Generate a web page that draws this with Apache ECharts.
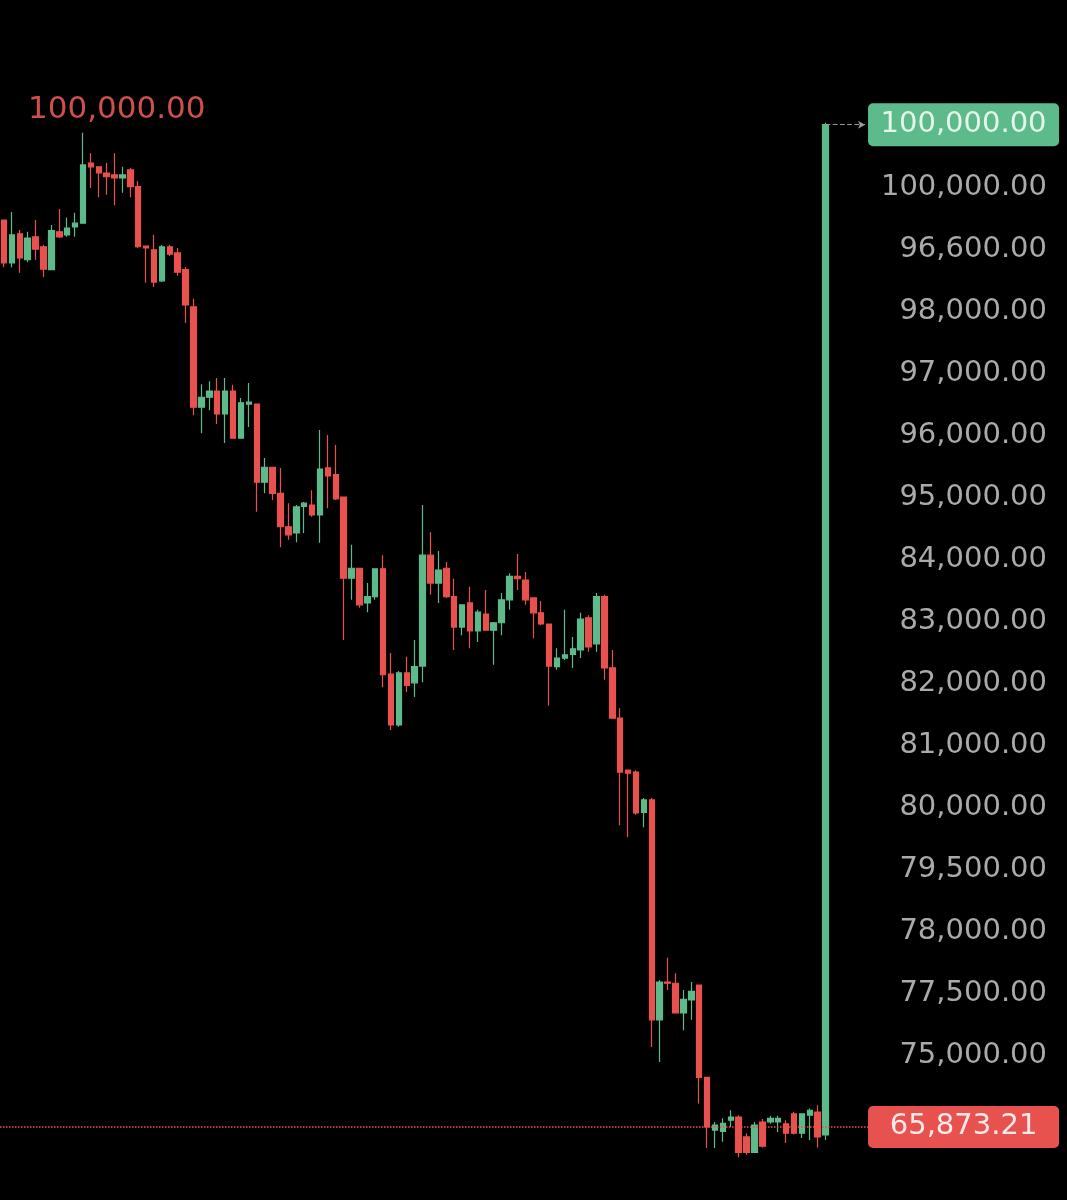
<!DOCTYPE html>
<html>
<head>
<meta charset="utf-8">
<script src="https://cdn.jsdelivr.net/npm/echarts@6/dist/echarts.min.js"></script>
<style>
  html, body { margin: 0; padding: 0; background: #000; }
  #chart { width: 1067px; height: 1200px; }
</style>
</head>
<body>
<div id="chart"></div>
<script>
// y values are in "row" units of the price scale: 0 = bottom label, 14 = top label
const tickLabels = ['100,000.00', '96,600.00', '98,000.00', '97,000.00', '96,000.00', '95,000.00',
  '84,000.00', '83,000.00', '82,000.00', '81,000.00', '80,000.00', '79,500.00', '78,000.00',
  '77,500.00', '75,000.00']

// [open, close, lowest, highest]
const candles = [
  [13.48, 12.79, 12.72, 13.48], [12.79, 13.24, 12.72, 13.61], [13.26, 12.87, 12.63, 13.32],
  [12.84, 13.19, 12.80, 13.29], [13.21, 13.01, 12.84, 13.48], [13.05, 12.69, 12.56, 13.08],
  [12.68, 13.31, 12.68, 13.40], [13.29, 13.21, 13.19, 13.66], [13.24, 13.35, 13.21, 13.52],
  [13.37, 13.43, 13.21, 13.60], [13.43, 14.37, 13.43, 14.89], [14.40, 14.34, 14.00, 14.56],
  [14.34, 14.24, 13.85, 14.34], [14.24, 14.18, 13.89, 14.40], [14.21, 14.16, 13.72, 14.56],
  [14.16, 14.21, 13.92, 14.34], [14.29, 14.02, 13.85, 14.32], [14.02, 13.05, 13.03, 14.11],
  [13.06, 13.03, 12.47, 13.06], [13.00, 12.48, 12.40, 13.24], [12.50, 13.05, 12.48, 13.08],
  [13.05, 12.93, 12.90, 13.08], [12.95, 12.64, 12.58, 13.03], [12.68, 12.11, 11.82, 12.72],
  [12.08, 10.46, 10.33, 12.21], [10.46, 10.62, 10.04, 10.83], [10.62, 10.72, 10.41, 10.88],
  [10.72, 10.35, 10.19, 10.93], [10.35, 10.72, 9.88, 10.93], [10.72, 9.96, 9.96, 10.82],
  [9.96, 10.53, 9.96, 10.61], [10.51, 10.54, 10.14, 10.85], [10.51, 9.25, 8.77, 10.51],
  [9.25, 9.49, 9.07, 9.64], [9.49, 9.07, 8.96, 9.49], [9.07, 8.53, 8.20, 9.48],
  [8.53, 8.40, 8.32, 8.91], [8.43, 8.85, 8.28, 8.88], [8.86, 8.91, 8.43, 8.93],
  [8.88, 8.72, 8.69, 9.12], [8.72, 9.46, 8.27, 10.09], [9.48, 9.35, 8.83, 10.01],
  [9.37, 8.98, 8.96, 9.85], [9.01, 7.70, 6.70, 9.01], [7.70, 7.86, 7.35, 8.24],
  [7.86, 7.27, 7.22, 7.86], [7.30, 7.40, 7.15, 7.62], [7.40, 7.85, 7.35, 7.85],
  [7.85, 6.14, 5.94, 8.07], [6.15, 5.33, 5.25, 6.49], [5.33, 6.17, 5.30, 6.20],
  [6.17, 5.97, 5.86, 6.43], [6.01, 6.27, 5.78, 6.70], [6.28, 8.07, 6.02, 8.88],
  [8.07, 7.62, 7.43, 8.44], [7.62, 7.83, 7.30, 8.14], [7.86, 7.40, 7.38, 7.96],
  [7.40, 6.91, 6.54, 7.69], [6.91, 7.27, 6.78, 7.27], [7.30, 6.85, 6.57, 7.56],
  [6.85, 7.15, 6.67, 7.19], [7.12, 6.86, 6.85, 7.51], [6.86, 6.98, 6.30, 6.99],
  [6.98, 7.35, 6.78, 7.46], [7.35, 7.73, 7.19, 7.78], [7.73, 7.69, 7.51, 8.09],
  [7.67, 7.35, 7.27, 7.80], [7.38, 7.14, 6.73, 7.38], [7.14, 6.96, 6.94, 7.33],
  [6.96, 6.28, 5.64, 6.96], [6.27, 6.41, 6.22, 6.57], [6.41, 6.46, 6.38, 7.19],
  [6.47, 6.56, 6.25, 6.75], [6.54, 7.04, 6.41, 7.14], [7.06, 6.59, 6.51, 7.10],
  [6.64, 7.40, 6.51, 7.46], [7.40, 6.25, 6.06, 7.43], [6.25, 5.44, 5.44, 6.54],
  [5.44, 4.57, 3.71, 5.60], [4.60, 4.55, 3.52, 4.60], [4.57, 3.91, 3.88, 4.60],
  [3.92, 4.12, 3.68, 4.15], [4.12, 0.57, 0.13, 4.15], [0.57, 1.18, -0.11, 1.21],
  [1.18, 1.16, 1.05, 1.57], [1.16, 0.68, 0.68, 1.32], [0.68, 0.90, 0.40, 1.05],
  [0.89, 1.03, 0.57, 1.18], [1.13, -0.36, -0.78, 1.13], [-0.36, -1.16, -1.50, -0.36],
  [-1.21, -1.13, -1.50, -1.08], [-1.23, -1.10, -1.40, -1.02], [-1.05, -1.00, -1.16, -0.89],
  [-1.00, -1.57, -1.65, -0.97], [-1.32, -1.57, -1.61, -1.26], [-1.57, -1.13, -1.58, -1.08],
  [-1.08, -1.47, -1.49, -1.03], [-1.08, -1.02, -1.11, -0.98], [-1.08, -1.02, -1.24, -0.98],
  [-1.11, -1.26, -1.42, -1.05], [-0.95, -1.26, -1.28, -0.92], [-1.26, -0.95, -1.34, -0.94],
  [-0.97, -0.89, -1.37, -0.86], [-0.92, -1.32, -1.49, -0.81], [-1.29, 15.02, -1.37, 15.05]
]

const lastPrice = -1.16
const lastPriceText = '65,873.21'
const targetText = '100,000.00'
const highText = '100,000.00'

// a few empty slots on the right so the price line runs up to the labels
const slots = Array.from({ length: candles.length + 5 }, (_, i) => String(i))
const lastIdx = candles.length - 1
const lastClose = candles[lastIdx][1]

const up = '#5dba8a'
const down = '#e8524e'
const font = 'DejaVu Sans'

const chart = echarts.init(document.getElementById('chart'))

chart.setOption({
  backgroundColor: '#000',
  animation: false,
  title: {
    text: highText,
    left: 23,
    top: 89,
    textStyle: { color: '#cf4f4c', fontSize: 31, fontWeight: 'normal', fontFamily: font }
  },
  grid: { left: 0, right: 198, top: 64, bottom: 21 },
  xAxis: {
    type: 'category',
    data: slots,
    axisLine: { show: false },
    axisTick: { show: false },
    axisLabel: { show: false },
    splitLine: { show: false }
  },
  yAxis: {
    type: 'value',
    position: 'right',
    min: -2,
    max: 16,
    interval: 1,
    axisLine: { show: false },
    axisTick: { show: false },
    splitLine: { show: false },
    axisLabel: {
      margin: 178,
      align: 'right',
      color: '#aaaaaa',
      fontSize: 29,
      fontFamily: font,
      formatter: (v) => tickLabels[14 - v] || ''
    }
  },
  series: [
    {
      type: 'candlestick',
      data: candles,
      barWidth: 6,
      itemStyle: {
        color: up,
        color0: down,
        borderColor: up,
        borderColor0: down,
        borderWidth: 1.2
      },
      markLine: {
        silent: true,
        symbol: 'none',
        label: { show: false },
        data: [
          { yAxis: lastPrice, lineStyle: { color: down, type: 'dotted', width: 1.5 } },
          [
            { coord: [lastIdx, lastClose], symbol: 'none',
              lineStyle: { color: '#9a9a9a', type: 'dashed', width: 1.2 } },
            { coord: [lastIdx + 5, lastClose], symbol: 'arrow', symbolSize: [6, 7] }
          ]
        ]
      },
      markPoint: {
        silent: true,
        symbol: 'rect',
        symbolSize: [1, 1],
        itemStyle: { color: 'rgba(0,0,0,0)' },
        data: [
          {
            coord: [lastIdx, lastClose],
            symbolOffset: [138, 0],
            label: {
              show: true, position: 'inside', formatter: targetText,
              backgroundColor: up, color: '#e6f5ec', borderRadius: 5,
              width: 191, height: 43, lineHeight: 43, align: 'center', verticalAlign: 'middle',
              fontSize: 29, fontFamily: font
            }
          },
          {
            coord: [lastIdx, lastPrice],
            symbolOffset: [138, 0],
            label: {
              show: true, position: 'inside', formatter: lastPriceText,
              backgroundColor: down, color: '#fbeaea', borderRadius: 5,
              width: 191, height: 42, lineHeight: 42, align: 'center', verticalAlign: 'middle',
              fontSize: 29, fontFamily: font
            }
          }
        ]
      }
    }
  ]
})
</script>
</body>
</html>
